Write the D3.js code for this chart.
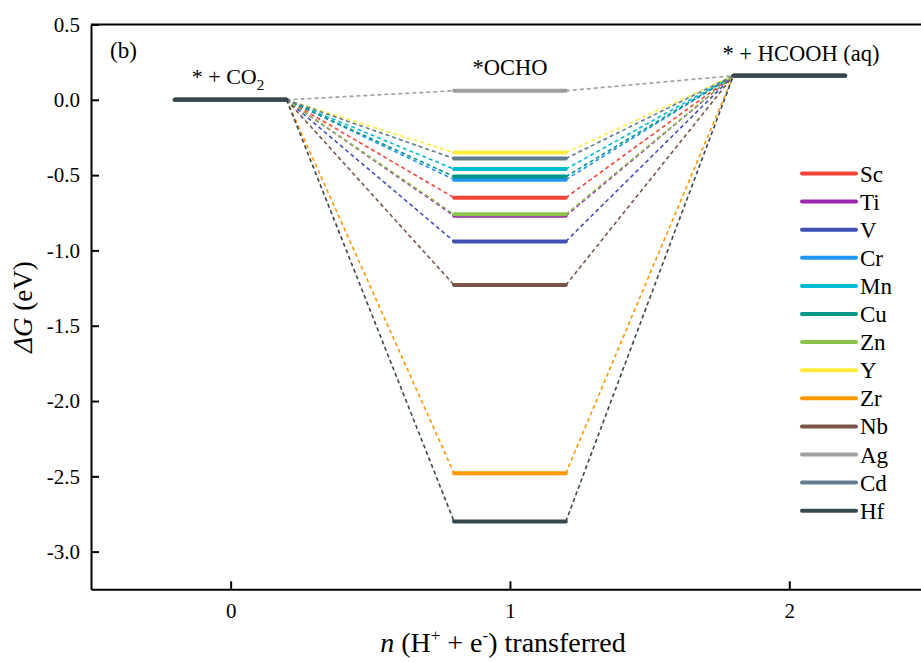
<!DOCTYPE html>
<html>
<head>
<meta charset="utf-8">
<script src="https://cdn.jsdelivr.net/npm/d3@7"></script>
<style>
  body { margin: 0; background: #fff; }
  svg text { font-family: "Liberation Serif", "Times New Roman", serif !important; fill: #000; }
</style>
</head>
<body>
<div class="container"></div>
<script>
// data
var metals = ["Sc", "Ti", "V", "Cr", "Mn", "Cu", "Zn", "Y", "Zr", "Nb", "Ag", "Cd", "Hf"];
var colors = ["#F44336", "#9C27B0", "#3F51B5", "#2196F3", "#00BCD4", "#009688", "#8BC34A",
              "#FFEB3B", "#FF9800", "#795548", "#9E9E9E", "#607D8B", "#37474F"];
var steps = [0, 1, 2];
var stepLabels = ["* + CO\u2082", "*OCHO", "* + HCOOH (aq)"];
var startG = [0, 0, 0, 0, 0, 0, 0, 0, 0, 0, 0, 0, 0];
var ochoG = [-0.65, -0.77, -0.94, -0.53, -0.46, -0.51, -0.76, -0.35, -2.48, -1.23, 0.06, -0.39, -2.80];
var endG = [0.16, 0.16, 0.16, 0.16, 0.16, 0.16, 0.16, 0.16, 0.16, 0.16, 0.16, 0.16, 0.16];
var yTicks = [0.5, 0.0, -0.5, -1.0, -1.5, -2.0, -2.5, -3.0];

var W = 921, H = 662;
var margin = {left: 91, top: 24.5, bottom: 73};
var halfW = 0.2;
var FONT = '"Liberation Serif", "Times New Roman", serif';

var svg = d3.select(".container").append("svg")
    .attr("width", W).attr("height", H)
    .attr("font-family", FONT);

var x = d3.scaleLinear().domain([-0.5, 2.5]).range([margin.left, margin.left + 3 * 279.3]);
var y = d3.scaleLinear().domain([-3.25, 0.5]).range([H - margin.bottom + 0.3, margin.top]);

var plot = svg.append("g");

metals.forEach(function (m, i) {
    var vals = [startG[i], ochoG[i], endG[i]];
    var g = plot.append("g").attr("class", "series");
    // dashed connectors
    for (var k = 0; k < 2; k++) {
        g.append("line")
            .attr("x1", x(steps[k] + halfW)).attr("y1", y(vals[k]))
            .attr("x2", x(steps[k + 1] - halfW)).attr("y2", y(vals[k + 1]))
            .attr("stroke", colors[i])
            .attr("stroke-width", 1.6)
            .attr("stroke-dasharray", "4,3");
    }
    // levels
    vals.forEach(function (v, k) {
        g.append("line")
            .attr("x1", x(steps[k] - halfW)).attr("y1", y(v))
            .attr("x2", x(steps[k] + halfW)).attr("y2", y(v))
            .attr("stroke", colors[i])
            .attr("stroke-width", 4)
            .attr("stroke-linecap", "round");
    });
});

// axes
var yAxis = d3.axisLeft(y).tickValues(yTicks).tickSizeInner(-8).tickSizeOuter(0)
    .tickPadding(11).tickFormat(function (d) { return d3.format(".1f")(d).replace("\u2212", "-"); });
var yg = svg.append("g").attr("transform", "translate(" + margin.left + ",0)").call(yAxis);

var xAxis = d3.axisBottom(x).tickValues(steps).tickSizeInner(-8).tickSizeOuter(0)
    .tickPadding(14).tickFormat(d3.format("d"));
var xg = svg.append("g").attr("transform", "translate(0," + y(-3.25) + ")").call(xAxis);

[yg, xg].forEach(function (a) {
    a.attr("font-family", FONT).attr("font-size", 21);
    a.selectAll("text").style("font-family", FONT).style("font-size", "21px");
});

svg.selectAll(".domain, .tick line").attr("stroke", "#000").attr("stroke-width", 2);

// top border
svg.append("line")
    .attr("x1", margin.left).attr("x2", W)
    .attr("y1", margin.top).attr("y2", margin.top)
    .attr("stroke", "#000").attr("stroke-width", 2);

// step labels
var labelY = [84, 75, 61];
var labelX = [228, 510, 801];
svg.append("text").attr("x", labelX[0]).attr("y", labelY[0]).attr("text-anchor", "middle")
    .style("font-size", "22px")
    .html('* + CO<tspan dy="6" font-size="15px">2</tspan>');
stepLabels.slice(1).forEach(function (t, k) {
    svg.append("text").attr("x", labelX[k + 1]).attr("y", labelY[k + 1]).attr("text-anchor", "middle")
        .style("font-size", "22.5px").text(t);
});

svg.append("text").attr("x", 110).attr("y", 58).style("font-size", "23px").text("(b)");

// axis titles
svg.append("text")
    .attr("transform", "translate(32,307) rotate(-90)")
    .attr("text-anchor", "middle").style("font-size", "27px")
    .html('<tspan font-style="italic">\u0394G</tspan> (eV)');

svg.append("text")
    .attr("x", 503).attr("y", 652).attr("text-anchor", "middle").style("font-size", "28px")
    .html('<tspan font-style="italic">n</tspan> (H<tspan dy="-11" font-size="17px">+</tspan><tspan dy="11"> + e</tspan><tspan dy="-11" font-size="17px">-</tspan><tspan dy="11">) transferred</tspan>');

// legend
var legend = svg.append("g").attr("transform", "translate(802,173.5)")
    .selectAll("g").data(metals).enter().append("g")
    .attr("transform", function (d, i) { return "translate(0," + i * 28.1 + ")"; });
legend.append("line").attr("x1", 0).attr("x2", 54)
    .attr("stroke", function (d, i) { return colors[i]; })
    .attr("stroke-width", 4).attr("stroke-linecap", "round");
legend.append("text").attr("x", 58).attr("y", 8).style("font-size", "23px")
    .text(function (d) { return d; });
</script>
</body>
</html>
